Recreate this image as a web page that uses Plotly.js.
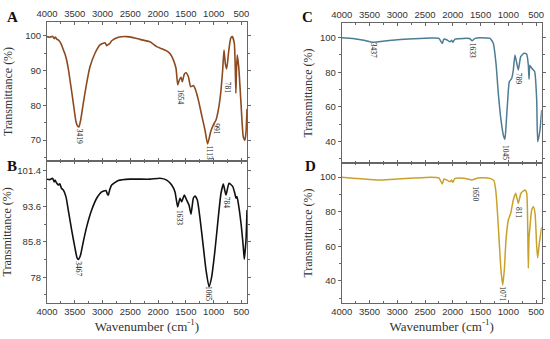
<!DOCTYPE html>
<html>
<head>
<meta charset="utf-8">
<script src="https://cdn.plot.ly/plotly-3.0.1.min.js"></script>
<style>html,body{margin:0;padding:0;background:#fff}#chart{width:550px;height:339px}</style>
</head>
<body>
<div id="chart"></div>
<script>
// ---- Panel A (brown) ----
const aWn = [4000,3950,3900,3870,3850,3820,3790,3766,3740,3706,3676,3646,3616,3586,3556,3526,3478,3447,3425,3394,3347,3286,3226,3136,3046,2956,2925,2900,2870,2836,2716,2566,2450,2326,2146,2026,1930,1846,1780,1726,1678,1647,1618,1588,1564,1528,1498,1456,1414,1366,1336,1276,1216,1156,1110,1054,1006,958,916,874,838,814,790,766,730,694,665,629,610,600,590,575,549,508,467,436,415,400];
const aT  = [99.8,99.6,99.9,99.2,99.7,99.0,98.8,98.3,97.5,96.0,94.8,93.0,90.5,87.3,84.0,80.6,75.3,74.0,73.8,75.8,80.6,86.4,91.1,95.0,97.4,98.0,97.2,97.5,97.8,98.6,99.6,99.8,99.5,99.0,98.3,96.9,96.3,95.7,94.8,93.1,90.7,85.9,87.3,88.1,86.8,89.0,89.4,88.3,85.4,85.7,84.9,81.6,77.2,72.9,68.9,72.4,74.4,75.8,78.7,83.5,90.2,95.9,92.0,90.5,95.5,99.3,99.8,97.9,90.0,83.5,90.0,94.5,91.1,80.6,71.0,70.0,73.0,79.0];
const aPeakWn = [3419,1593,1079,945,737];
const aPeakT  = [71.2,82.4,66.4,73.2,85.0];
const aPeakLbl = ["3419","1654","1113","991","781"];

// ---- Panel B (black) ----
const bWn = [4000,3950,3900,3870,3856,3830,3796,3770,3740,3706,3658,3617,3556,3496,3460,3437,3410,3388,3347,3286,3196,3106,3016,2938,2910,2896,2870,2836,2716,2506,2146,1966,1846,1756,1696,1648,1606,1576,1528,1486,1444,1408,1366,1336,1294,1246,1186,1138,1084,1036,976,916,868,826,778,724,658,620,598,580,557,508,467,449,418,400];
const bT  = [99.6,99.5,99.8,99.0,99.4,98.8,98.3,98.6,97.6,97.2,95.7,92.8,88.4,84.4,82.3,81.9,82.4,83.3,85.8,89.1,92.8,95.4,96.8,97.1,96.2,96.1,97.3,98.3,99.3,99.6,99.6,99.8,99.4,98.3,96.8,93.5,95.4,94.6,96.1,95.0,93.9,91.9,95.4,95.9,95.0,91.0,84.7,79.6,75.9,78.1,84.0,91.3,96.5,98.5,96.1,98.7,98.0,96.5,95.4,95.8,94.3,89.9,84.7,82.0,86.2,92.8];
const bPeakWn = [3437,1620,1081,768];
const bPeakT  = [79.9,91.2,74.5,94.5];
const bPeakLbl = ["3467","1633","1065","784"];
const bTicks = [78,85.8,93.6,101.4];

// ---- Panel C (blue) ----
const cWn = [4000,3800,3600,3437,3300,3000,2700,2400,2250,2190,2160,2120,2051,2020,2002,1960,1800,1700,1650,1600,1500,1400,1331,1271,1223,1181,1133,1091,1062,1043,1012,983,940,911,881,821,778,719,670,641,628,615,598,562,526,490,472,431,400];
const cT  = [100,99.6,98.5,97.3,97.8,98.8,99.4,99.8,99.6,96.7,99.2,99.0,97.7,98.5,97.3,99.2,99.6,99.5,98.3,99.6,100,99.8,99.6,96.8,85.2,67.8,52.4,43.7,41.2,48.5,63.9,74.5,76.5,81.3,90.0,81.3,89.0,91.0,90.4,84.2,76.0,84.0,83.2,81.7,80.3,63.9,39.8,46.6,58.2];
const cPeakWn = [3431,1642,1061,821];
const cPeakT  = [92.9,92.6,33.3,76.1];
const cPeakLbl = ["3437","1633","1045","789"];

// ---- Panel D (gold) ----
const dWn = [4000,3800,3500,3300,3000,2700,2400,2250,2190,2160,2120,2051,2020,2002,1960,1800,1650,1550,1450,1331,1260,1228,1199,1163,1133,1102,1073,1043,1001,958,911,868,821,773,701,670,652,641,628,611,580,551,520,490,472,443,400];
const dT  = [99.9,99.4,98.7,98.4,98.9,99.5,100,99.6,96.1,98.9,98.6,97.4,98.3,97.0,99.3,99.4,98.4,99.5,99.7,99.3,98.0,92.6,81.0,61.7,46.3,37.6,46.3,63.6,75.2,79.1,86.8,90.7,84.9,90.7,92.6,90.7,71.3,47.3,65.0,71.3,81.0,82.9,79.1,59.8,53.4,61.7,71.3];
const dPeakWn = [1582,1102,821];
const dPeakT  = [90.7,32.4,79.6];
const dPeakLbl = ["1650","1071","811"];

const xTickVals = [4000,3500,3000,2500,2000,1500,1000,500];

const W = 550, H = 339;
const fx = p => p / W;
const fy = p => 1 - p / H;

const sansTick = {family: "Liberation Sans, Arial, sans-serif", size: 9.5, color: "#333"};
const serif = "Liberation Serif, Times New Roman, serif";
const axisColor = "#666";

function xAxis(dom, anchor, side, showLabels, withTitle) {
  const ax = {
    domain: dom, anchor: anchor, side: side, range: [4000, 400],
    tickmode: "array", tickvals: xTickVals, showticklabels: showLabels,
    ticks: "inside", ticklen: 3, tickcolor: axisColor, tickwidth: 1,
    minor: {ticks: "inside", ticklen: 2, dtick: 250, tick0: 0, tickcolor: axisColor, showgrid: false},
    showline: true, linecolor: axisColor, linewidth: 1, mirror: "ticks",
    showgrid: false, zeroline: false, tickfont: sansTick, fixedrange: true
  };
  if (withTitle) {
    ax.title = {text: "Wavenumber (cm<sup>-1</sup>)", font: {family: serif, size: 13, color: "#333"}, standoff: 4};
  }
  return ax;
}
function yAxis(dom, anchor, range, extra, standoff) {
  const ax = Object.assign({
    domain: dom, anchor: anchor, range: range,
    ticks: "outside", ticklen: 3, tickcolor: axisColor, tickwidth: 1,
    showline: true, linecolor: axisColor, linewidth: 1, mirror: "ticks",
    showgrid: false, zeroline: false, tickfont: sansTick, fixedrange: true,
    title: {text: "Transmittance (%)", font: {family: serif, size: 12, color: "#333"}, standoff: standoff}
  }, extra);
  return ax;
}

const traces = [
  {x: aWn, y: aT, xaxis: "x", yaxis: "y", mode: "lines", line: {color: "#8c4a1e", width: 1.6, shape: "spline", smoothing: 0.5}, name: "A"},
  {x: bWn, y: bT, xaxis: "x2", yaxis: "y2", mode: "lines", line: {color: "#111111", width: 1.6, shape: "spline", smoothing: 0.5}, name: "B"},
  {x: cWn, y: cT, xaxis: "x3", yaxis: "y3", mode: "lines", line: {color: "#4d7c93", width: 1.5, shape: "spline", smoothing: 0.5}, name: "C"},
  {x: dWn, y: dT, xaxis: "x4", yaxis: "y4", mode: "lines", line: {color: "#c9a12a", width: 1.5, shape: "spline", smoothing: 0.5}, name: "D"}
];

const annotations = [];
function addPeaks(wn, t, lbl, xr, yr) {
  for (let i = 0; i < wn.length; i++) {
    annotations.push({x: wn[i], y: t[i], xref: xr, yref: yr, text: lbl[i], showarrow: false,
      textangle: 90, xanchor: "center", yanchor: "middle",
      font: {family: serif, size: 7.5, color: "#222"}});
  }
}
addPeaks(aPeakWn, aPeakT, aPeakLbl, "x", "y");
addPeaks(bPeakWn, bPeakT, bPeakLbl, "x2", "y2");
addPeaks(cPeakWn, cPeakT, cPeakLbl, "x3", "y3");
addPeaks(dPeakWn, dPeakT, dPeakLbl, "x4", "y4");

const panelLetters = ["A", "B", "C", "D"];
const letterPos = [[12, 17], [12, 166], [307, 17], [310, 166]];
panelLetters.forEach((L, i) => {
  annotations.push({x: fx(letterPos[i][0]), y: fy(letterPos[i][1]), xref: "paper", yref: "paper", text: "<b>" + L + "</b>",
    showarrow: false, xanchor: "center", yanchor: "middle", font: {family: serif, size: 15, color: "#111"}});
});

const layout = {
  width: W, height: H, margin: {l: 0, r: 0, t: 0, b: 0},
  paper_bgcolor: "#fff", plot_bgcolor: "#fff", showlegend: false,
  xaxis:  xAxis([fx(47), fx(247)], "y", "top", true, false),
  yaxis:  yAxis([fy(161), fy(22)], "x", [64, 104], {dtick: 10, tick0: 0, minor: {ticks: "outside", ticklen: 2, dtick: 5, tickcolor: axisColor}}, 10),
  xaxis2: xAxis([fx(47), fx(247)], "y2", "bottom", true, true),
  yaxis2: yAxis([fy(302.7), fy(161)], "x2", [72.4, 103.6], {tickmode: "array", tickvals: bTicks, ticktext: bTicks.map(v => v.toFixed(v % 1 ? 1 : 0)), minor: {ticks: "outside", ticklen: 2, tickmode: "array", tickvals: [74.1, 81.9, 89.7, 97.5], tickcolor: axisColor}}, 4),
  xaxis3: xAxis([fx(341.7), fx(541.7)], "y3", "top", true, false),
  yaxis3: yAxis([fy(163), fy(23)], "x3", [27.5, 108.5], {dtick: 20, tick0: 0, minor: {ticks: "outside", ticklen: 2, dtick: 10, tickcolor: axisColor}}, 4),
  xaxis4: xAxis([fx(341.7), fx(541.7)], "y4", "bottom", true, true),
  yaxis4: yAxis([fy(303), fy(163)], "x4", [27.2, 108.2], {dtick: 20, tick0: 0, minor: {ticks: "outside", ticklen: 2, dtick: 10, tickcolor: axisColor}}, 4),
  annotations: annotations
};

Plotly.newPlot("chart", traces, layout, {staticPlot: true, displayModeBar: false});
</script>
</body>
</html>
